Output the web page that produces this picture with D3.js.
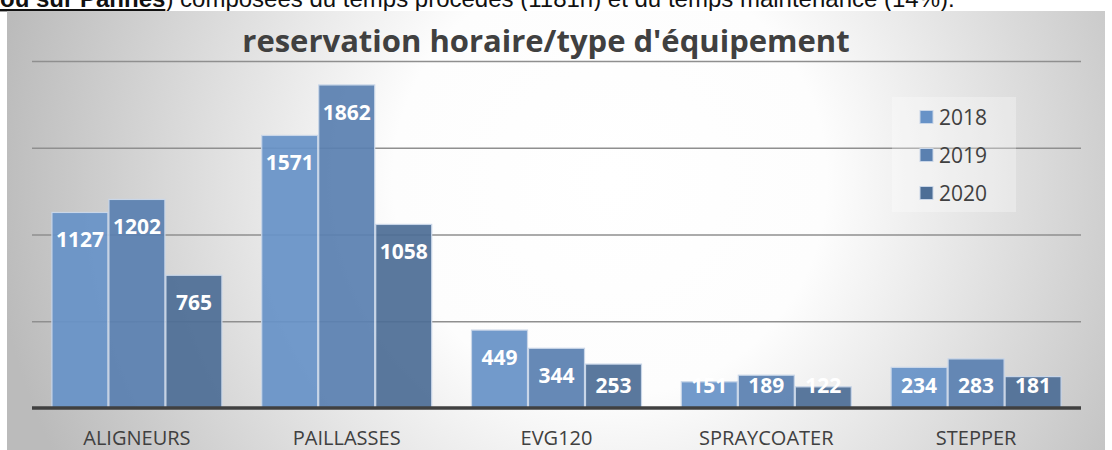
<!DOCTYPE html>
<html>
<head>
<meta charset="utf-8">
<script src="https://cdn.jsdelivr.net/npm/d3@7/dist/d3.min.js"></script>
<style>
  html, body { margin: 0; padding: 0; background: #ffffff; }
  svg { display: block; }
</style>
</head>
<body>
<svg id="chart" width="1112" height="450"></svg>
<script>
// Reserved hours per equipment type, by year
const categories = ["ALIGNEURS", "PAILLASSES", "EVG120", "SPRAYCOATER", "STEPPER"];
const years = ["2018", "2019", "2020"];
const values2018 = [1127, 1571, 449, 151, 234];
const values2019 = [1202, 1862, 344, 189, 283];
const values2020 = [765, 1058, 253, 122, 181];
const yTicks = [500, 1000, 1500, 2000];
const titleText = "reservation horaire/type d'équipement";

const seriesValues = { "2018": values2018, "2019": values2019, "2020": values2020 };
const colors = { "2018": "#6792c7", "2019": "#5a80b0", "2020": "#4d6e96" };

const svg = d3.select("#chart");
const W = 1112, H = 450;

// Text line from the document above the chart (partly cropped at the top)
const headLine = svg.append("text")
  .attr("x", 0).attr("y", 7)
  .attr("font-family", "Liberation Sans, Arial, sans-serif")
  .attr("font-size", 24)
  .attr("fill", "#111");
headLine.append("tspan").attr("font-weight", "bold").attr("text-decoration", "underline").text("ou sur Pannes");
headLine.append("tspan").text(") composées du temps procédés (1181h) et du temps maintenance (14%).");

// Chart area with a radial grey-to-white fill
const defs = svg.append("defs");
const grad = defs.append("radialGradient")
  .attr("id", "bg")
  .attr("gradientUnits", "userSpaceOnUse")
  .attr("cx", 610).attr("cy", 180).attr("r", 620);
grad.append("stop").attr("offset", "0").attr("stop-color", "#ffffff");
grad.append("stop").attr("offset", "0.35").attr("stop-color", "#fdfdfd");
grad.append("stop").attr("offset", "1").attr("stop-color", "#bbbbbb");

svg.append("rect")
  .attr("x", 7).attr("y", 11).attr("width", 1098).attr("height", H - 11)
  .attr("fill", "url(#bg)");

// Scales
const plotLeft = 32, plotRight = 1081, baseY = 408, topY = 61;
const x0 = d3.scaleBand().domain(categories).range([plotLeft, plotRight])
  .paddingInner(0.185).paddingOuter(0.0925);
const x1 = d3.scaleBand().domain(years).range([0, x0.bandwidth()]).padding(0);
const y = d3.scaleLinear().domain([0, 2000]).range([baseY, topY]);

// Horizontal gridlines
const grid = svg.append("g")
  .attr("transform", `translate(${plotLeft},0)`)
  .call(d3.axisLeft(y).tickValues(yTicks).tickSize(-(plotRight - plotLeft)).tickFormat(""));
grid.select(".domain").remove();
grid.selectAll(".tick line").attr("stroke", "#8f8f8f").attr("stroke-width", 1.3);

// Title
svg.append("text")
  .attr("x", 546).attr("y", 40)
  .attr("text-anchor", "middle").attr("dominant-baseline", "central")
  .attr("font-family", "Open Sans, sans-serif")
  .attr("font-weight", "bold").attr("font-size", 31)
  .attr("fill", "#404040")
  .text(titleText);

// Bars
const groups = svg.append("g").selectAll("g")
  .data(categories)
  .join("g")
  .attr("transform", d => `translate(${x0(d)},0)`);

const cells = (c, i) => years.map(yr => ({ year: yr, value: seriesValues[yr][i] }));

groups.each(function (c, i) {
  const g = d3.select(this);
  const data = cells(c, i);
  g.selectAll("rect")
    .data(data)
    .join("rect")
    .attr("x", d => x1(d.year) + 0.5)
    .attr("y", d => y(d.value))
    .attr("width", x1.bandwidth() - 1)
    .attr("height", d => y(0) - y(d.value))
    .attr("fill", d => colors[d.year])
    .attr("fill-opacity", 0.93)
    .attr("stroke", "#c9d6e8")
    .attr("stroke-width", 1.2);

  g.selectAll("text")
    .data(data)
    .join("text")
    .attr("x", d => x1(d.year) + x1.bandwidth() / 2)
    .attr("y", d => Math.min(y(d.value) + 27, y(0) - 23))
    .attr("text-anchor", "middle").attr("dominant-baseline", "central")
    .attr("font-family", "Open Sans, sans-serif")
    .attr("font-weight", "bold").attr("font-size", 21)
    .attr("fill", "#ffffff")
    .text(d => d.value);
});

// Category axis
const xAxis = svg.append("g")
  .attr("transform", `translate(0,${baseY})`)
  .call(d3.axisBottom(x0).tickSize(0).tickPadding(0));
xAxis.select(".domain").attr("stroke", "#404040").attr("stroke-width", 3.5)
  .attr("d", `M${plotLeft},0H${plotRight}`);
xAxis.selectAll(".tick text")
  .attr("y", 30).attr("dy", "0.35em")
  .attr("font-family", "Open Sans, sans-serif")
  .attr("font-size", 20)
  .attr("fill", "#404040");

// Legend
const legend = svg.append("g");
legend.append("rect")
  .attr("x", 892).attr("y", 97).attr("width", 124).attr("height", 115)
  .attr("fill", "#ffffff").attr("fill-opacity", 0.3);
const items = legend.selectAll("g.item")
  .data(years)
  .join("g")
  .attr("class", "item")
  .attr("transform", (d, i) => `translate(920,${117 + i * 38})`);
items.append("rect")
  .attr("x", 0).attr("y", -6.5).attr("width", 13).attr("height", 13)
  .attr("fill", d => colors[d]).attr("stroke", "#c9d6e8").attr("stroke-width", 1);
items.append("text")
  .attr("x", 19).attr("y", 0).attr("dominant-baseline", "central")
  .attr("font-family", "Open Sans, sans-serif")
  .attr("font-size", 21)
  .attr("fill", "#404040")
  .text(d => d);
</script>
</body>
</html>
